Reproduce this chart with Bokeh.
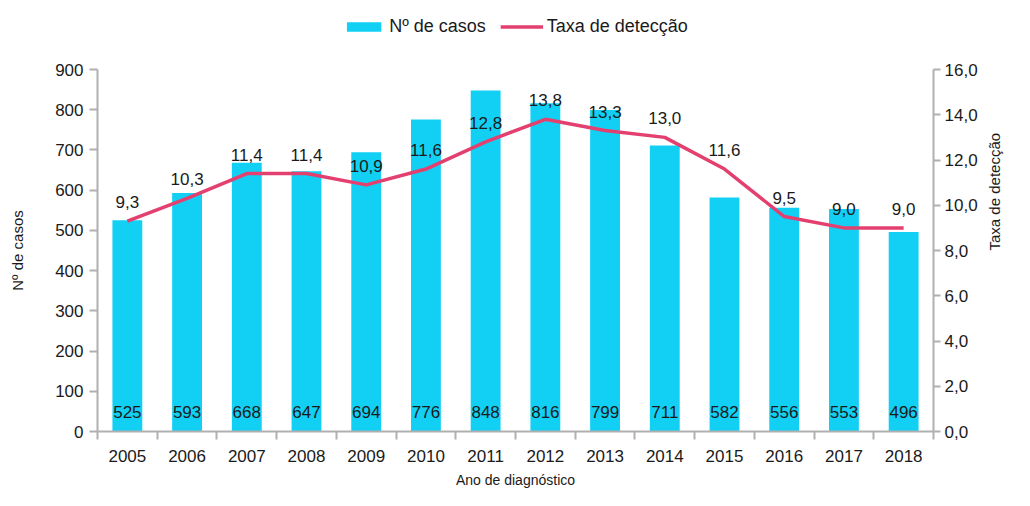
import math
from bokeh.plotting import figure
from bokeh.layouts import column
from bokeh.models import (Range1d, LinearAxis, FixedTicker, CustomJSTickFormatter,
                          ColumnDataSource, Legend, LegendItem)
from bokeh.core.properties import value
from bokeh.embed import file_html
from bokeh.resources import INLINE

years = ["2005", "2006", "2007", "2008", "2009", "2010", "2011", "2012",
         "2013", "2014", "2015", "2016", "2017", "2018"]
cases = [525, 593, 668, 647, 694, 776, 848, 816, 799, 711, 582, 556, 553, 496]
rates = [9.3, 10.3, 11.4, 11.4, 10.9, 11.6, 12.8, 13.8, 13.3, 13.0, 11.6, 9.5, 9.0, 9.0]
series_names = ["Nº de casos", "Taxa de detecção"]

FONT = "Liberation Sans"
BAR = "#12D0F4"
LINE = "#E3406F"
AX = "#b0b0b0"
TXT = "#1a1a1a"

n = len(years)
xs = [i + 0.5 for i in range(n)]
src = ColumnDataSource(dict(
    x=xs, year=years, cases=cases, rates=rates,
    case_lbl=[str(c) for c in cases],
    rate_lbl=[f"{r:.1f}".replace(".", ",") for r in rates],
    zero=[0] * n,
))

# ---- legend strip on top ----
lf = figure(width=1014, height=52, output_backend="svg", toolbar_location=None,
            x_range=Range1d(0, 1), y_range=Range1d(0, 1),
            min_border=0, outline_line_color=None)
lf.axis.visible = False
lf.grid.visible = False
# proxy renderers (placed outside the visible range) used only for legend swatches
lb = lf.vbar(x=[-10], top=[-10], width=0.5, fill_color=BAR, line_color=None)
ll = lf.line(x=[-10, -9], y=[-10, -10], line_color=LINE, line_width=3.5)
legend = Legend(items=[LegendItem(label=series_names[0], renderers=[lb]),
                       LegendItem(label=series_names[1], renderers=[ll])],
                orientation="horizontal", location="center",
                glyph_width=43, glyph_height=12, spacing=14, label_standoff=4,
                label_text_font=FONT, label_text_font_size="18px",
                label_text_color=TXT, border_line_color=None,
                background_fill_alpha=0, padding=0, margin=0)
lf.add_layout(legend, "center")

# ---- main chart ----
p = figure(width=1014, height=438, output_backend="svg", toolbar_location=None,
           x_range=Range1d(0, n), y_range=Range1d(0, 900),
           min_border_left=97, min_border_right=79, min_border_top=17,
           min_border_bottom=58)
p.extra_y_ranges = {"rate": Range1d(0, 16)}
p.grid.visible = False
p.outline_line_color = None
p.background_fill_color = "white"
p.border_fill_color = "white"

bars = p.vbar(x="x", top="cases", width=0.5, source=src, fill_color=BAR, line_color=None)
ln = p.line(x="x", y="rates", source=src, y_range_name="rate", line_color=LINE,
            line_width=3.5, line_join="round")

p.text(x="x", y="zero", text="case_lbl", source=src, text_align="center",
       text_baseline="middle", y_offset=-20, text_font=value(FONT),
       text_font_size="17px", text_color=TXT)
p.text(x="x", y="rates", text="rate_lbl", source=src, y_range_name="rate",
       text_align="center", text_baseline="bottom", y_offset=-13,
       text_font=value(FONT), text_font_size="17px", text_color=TXT)

# x axis
xa = p.xaxis[0]
xa.ticker = FixedTicker(ticks=xs, minor_ticks=list(range(n + 1)))
xa.major_label_overrides = {x: y for x, y in zip(xs, years)}
xa.major_tick_line_color = None
xa.minor_tick_in = 0
xa.minor_tick_out = 8
xa.minor_tick_line_color = AX
xa.axis_line_color = AX
xa.axis_line_width = 2
xa.minor_tick_line_width = 2
xa.major_label_text_font = FONT
xa.major_label_text_font_size = "17px"
xa.major_label_text_color = TXT
xa.major_label_standoff = 10
xa.axis_label = "Ano de diagnóstico"
xa.axis_label_text_font = FONT
xa.axis_label_text_font_style = "normal"
xa.axis_label_text_font_size = "14px"
xa.axis_label_text_color = TXT
xa.axis_label_standoff = 7

# left axis
ya = p.yaxis[0]
ya.ticker = FixedTicker(ticks=list(range(0, 901, 100)))
ya.major_tick_in = 0
ya.major_tick_out = 8
ya.minor_tick_line_color = None
ya.major_tick_line_color = AX
ya.major_tick_line_width = 2
ya.axis_line_color = AX
ya.axis_line_width = 2
ya.major_label_text_font = FONT
ya.major_label_text_font_size = "17px"
ya.major_label_text_color = TXT
ya.major_label_standoff = 6
ya.axis_label = series_names[0]
ya.axis_label_text_font = FONT
ya.axis_label_text_font_style = "normal"
ya.axis_label_text_font_size = "15px"
ya.axis_label_text_color = TXT
ya.axis_label_standoff = 26

# right axis
ra = LinearAxis(y_range_name="rate")
ra.ticker = FixedTicker(ticks=list(range(0, 17, 2)))
ra.formatter = CustomJSTickFormatter(code="return tick.toFixed(1).replace('.', ',');")
ra.major_tick_in = 0
ra.major_tick_out = 7
ra.minor_tick_line_color = None
ra.major_tick_line_color = AX
ra.major_tick_line_width = 2
ra.axis_line_color = AX
ra.axis_line_width = 2
ra.major_label_text_font = FONT
ra.major_label_text_font_size = "17px"
ra.major_label_text_color = TXT
ra.major_label_standoff = 4
ra.axis_label = series_names[1]
ra.axis_label_orientation = math.pi / 2
ra.axis_label_text_font = FONT
ra.axis_label_text_font_style = "normal"
ra.axis_label_text_font_size = "15px"
ra.axis_label_text_color = TXT
ra.axis_label_standoff = 14
p.add_layout(ra, "right")

layout = column(lf, p, spacing=0)
open("out.html", "w").write(file_html(layout, INLINE))
